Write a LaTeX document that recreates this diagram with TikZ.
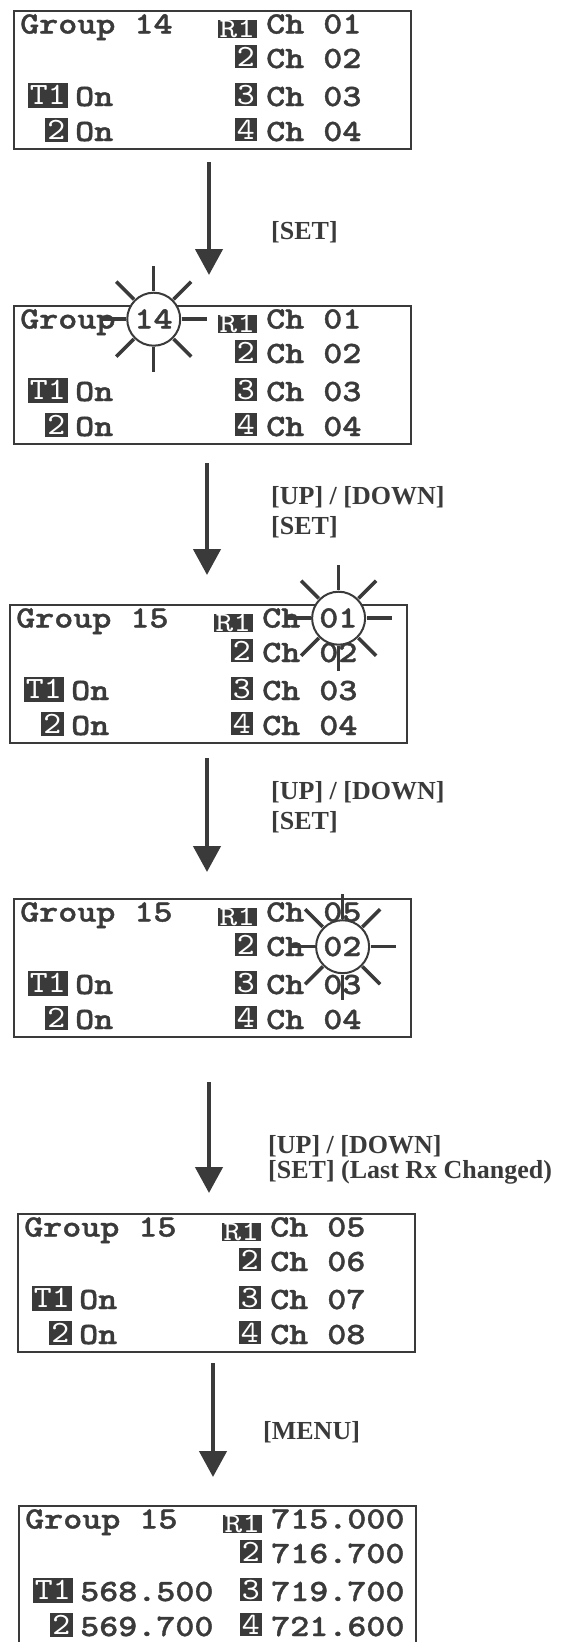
\documentclass[tikz,border=0pt]{standalone}
\usepackage{fontspec}
\usepackage{xcolor}
\usepackage{tikz}
\usetikzlibrary{arrows.meta, calc}
\setmainfont{Liberation Serif}
\newfontfamily\lcdfont{lmmonolt10-bold.otf}[FakeStretch=1.17, FakeBold=1.2]
\newfontfamily\tagfont{lmmono10-regular.otf}[FakeStretch=1.1]
\newfontfamily\tagwidefont{lmmono10-regular.otf}[FakeStretch=1.2]
\definecolor{lcdink}{HTML}{3A3A3A}

\tikzset{
  screen/.style={draw=lcdink, line width=2pt, inner sep=0pt, anchor=north west,
    minimum width=397pt, minimum height=138pt},
  lcdtext/.style={anchor=base west, inner sep=0pt, text=lcdink,
    font=\lcdfont\fontsize{31}{31}\selectfont},
  numtag/.style={anchor=south east, fill=lcdink, text=white, inner sep=0pt,
    minimum width=22pt, minimum height=23.5pt, font=\tagfont\fontsize{31}{31}\selectfont},
  widetag/.style={anchor=south east, fill=lcdink, text=white, inner sep=0pt,
    minimum width=39pt, minimum height=18.5pt, font=\tagwidefont\fontsize{28}{28}\selectfont},
  ray/.style={draw=lcdink, line width=3.5pt},
  ring/.style={draw=lcdink, fill=white, line width=2pt},
  blink/.pic={
    \foreach \a in {0,45,...,315}
      \draw[ray] (\a:28pt) -- (\a:53pt);
    \draw[ring] (0,0) circle (26.5pt);
  },
  flowarrow/.style={draw=lcdink, line width=4.5pt, -{Triangle[width=27pt, length=26pt]}},
  keylabel/.style={anchor=west, inner sep=0pt, align=left, text=lcdink,
    font=\bfseries\fontsize{26}{30}\selectfont}
}

% #1 name, #2 top left corner, #3 group, #4-#7 receivers, #8-#9 transmitters
\newcommand{\lcdscreen}[9]{%
  \begin{scope}[shift={#2}]
    \node[screen] (#1) at (0,0) {};
    \node[lcdtext] (#1-grp) at (7,23.5) {Group #3};
    \node[widetag] (#1-rt1) at (244,28.5) {R1};
    \node[lcdtext] (#1-rx1) at (253,23.5) {#4};
    \node[numtag] (#1-rt2) at (244,58.5) {2};
    \node[lcdtext] (#1-rx2) at (253,58) {#5};
    \node[numtag] (#1-rt3) at (244,96.5) {3};
    \node[lcdtext] (#1-rx3) at (253,96) {#6};
    \node[numtag] (#1-rt4) at (244,131.5) {4};
    \node[lcdtext] (#1-rx4) at (253,131) {#7};
    \node[numtag, minimum width=40pt, minimum height=25pt] (#1-tt1) at (55,98) {T1};
    \node[lcdtext] (#1-tx1) at (62,96) {#8};
    \node[numtag, minimum width=23pt, minimum height=24pt] (#1-tt2) at (55,132) {2};
    \node[lcdtext] (#1-tx2) at (62,131) {#9};
  \end{scope}}

\begin{document}
\begin{tikzpicture}[x=1pt, y=-1pt]
  \useasboundingbox (0,0) rectangle (560,1642);

  \lcdscreen{s1}{(13,10)}{14}{Ch 01}{Ch 02}{Ch 03}{Ch 04}{On}{On}
  \lcdscreen{s2}{(13,305)}{14}{Ch 01}{Ch 02}{Ch 03}{Ch 04}{On}{On}
  \lcdscreen{s3}{(9,604)}{15}{Ch 01}{Ch 02}{Ch 03}{Ch 04}{On}{On}
  \lcdscreen{s4}{(13,898)}{15}{Ch 05}{Ch 02}{Ch 03}{Ch 04}{On}{On}
  \lcdscreen{s5}{(17,1213)}{15}{Ch 05}{Ch 06}{Ch 07}{Ch 08}{On}{On}
  \lcdscreen{s6}{(18,1505)}{15}{715.000}{716.700}{719.700}{721.600}{568.500}{569.700}

  % blinking fields
  \pic at ($(s2-grp.base east)+(-19pt,9.3pt)$) {blink};
  \node[lcdtext, anchor=base east] (s2-hl) at (s2-grp.base east) {14};
  \pic at ($(s3-rx1.base east)+(-19pt,9.3pt)$) {blink};
  \node[lcdtext, anchor=base east] (s3-hl) at (s3-rx1.base east) {01};
  \pic at ($(s4-rx2.base east)+(-19pt,9.3pt)$) {blink};
  \node[lcdtext, anchor=base east] (s4-hl) at (s4-rx2.base east) {02};

  \coordinate (a1-from) at (209,162);
  \coordinate (a1-to) at (209,275);
  \coordinate (a2-from) at (207,463);
  \coordinate (a2-to) at (207,575);
  \coordinate (a3-from) at (207,758);
  \coordinate (a3-to) at (207,872);
  \coordinate (a4-from) at (209,1082);
  \coordinate (a4-to) at (209,1193);
  \coordinate (a5-from) at (213,1363);
  \coordinate (a5-to) at (213,1477);
  \draw[flowarrow] (a1-from) -- (a1-to);
  \draw[flowarrow] (a2-from) -- (a2-to);
  \draw[flowarrow] (a3-from) -- (a3-to);
  \draw[flowarrow] (a4-from) -- (a4-to);
  \draw[flowarrow] (a5-from) -- (a5-to);

  \node[keylabel] (k1) at (271,232) {[SET]};
  \node[keylabel] (k2) at (271,512) {[UP] / [DOWN]\\{[SET]}};
  \node[keylabel] (k3) at (271,807) {[UP] / [DOWN]\\{[SET]}};
  \node[keylabel, font=\bfseries\fontsize{26}{25}\selectfont] (k4) at (268,1160)
    {[UP] / [DOWN]\\{[SET] (Last Rx Changed)}};
  \node[keylabel] (k5) at (263,1432) {[MENU]};
\end{tikzpicture}
\end{document}
